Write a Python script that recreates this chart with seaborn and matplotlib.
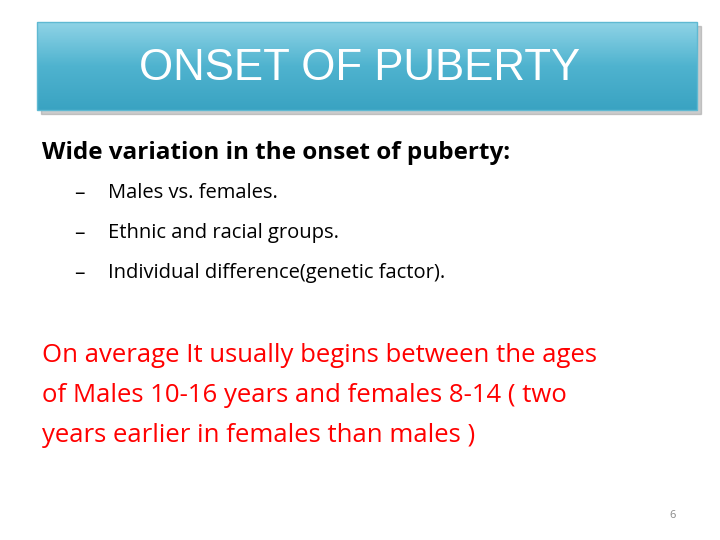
import matplotlib
matplotlib.use("Agg")
import matplotlib.pyplot as plt
import seaborn as sns
import numpy as np
from matplotlib.patches import Rectangle
from matplotlib.colors import LinearSegmentedColormap

sns.set_theme(style="white")
plt.rcParams['font.family'] = ['Open Sans', 'DejaVu Sans']

title = "ONSET OF PUBERTY"
heading = "Wide variation in the onset of puberty:"
bullets = ["Males vs. females.", "Ethnic and racial groups.", "Individual difference(genetic factor)."]
red_lines = ["On average It usually begins between the ages",
             "of Males 10-16 years and females 8-14 ( two",
             "years earlier in females than males )"]
page = "6"

fig = plt.figure(figsize=(7.2, 5.4), dpi=100)
ax = fig.add_axes([0, 0, 1, 1])
ax.set_xlim(0, 720); ax.set_ylim(540, 0); ax.axis('off')

ax.add_patch(Rectangle((41, 26), 660, 88, color='#9a9a9a', alpha=0.5, zorder=1))
grad = np.linspace(0, 1, 100).reshape(-1, 1)
cmap = LinearSegmentedColormap.from_list('t', ['#8fd3e6', '#4fb3cf', '#3aa3c2'])
ax.imshow(grad, cmap=cmap, extent=(37, 697, 110, 22), aspect='auto', zorder=2)
ax.add_patch(Rectangle((37, 22), 660, 88, fill=False, ec='#5fb9d2', lw=1, zorder=3))
ax.text(360, 68, title, color='white', fontsize=31.5, ha='center', va='center',
        family=['Liberation Sans', 'DejaVu Sans'], zorder=4)

ax.text(42, 153, heading, fontsize=17.5, fontweight='bold', color='black', va='center')
for i, b in enumerate(bullets):
    y = 193 + 40 * i
    ax.text(74, y, "–", fontsize=15, color='black', va='center')
    ax.text(108, y, b, fontsize=14.5, color='black', va='center')
for i, t in enumerate(red_lines):
    ax.text(42, 355 + 40 * i, t, fontsize=18.5, color='#ff0000', va='center')
ax.text(676, 515, page, fontsize=8, color='#888888', ha='right', va='center')

fig.savefig("out.png", dpi=100)
